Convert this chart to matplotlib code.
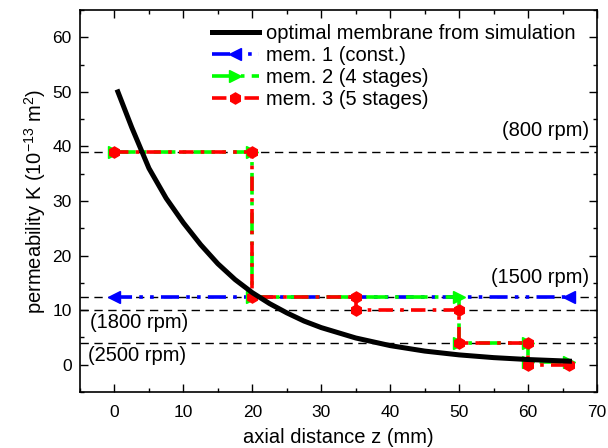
import numpy as np
import matplotlib
matplotlib.use("Agg")
import matplotlib.pyplot as plt
from matplotlib.ticker import MultipleLocator

plt.rcParams['font.family'] = ['Liberation Sans', 'DejaVu Sans']
plt.rcParams['mathtext.default'] = 'regular'

# optimal permeability profile from simulation
z_opt = [0.5, 2.5, 5, 7.5, 10, 12.5, 15, 17.5, 20, 22.5, 25, 27.5, 30,
         35, 40, 45, 50, 55, 60, 66]
K_opt = [50, 43.5, 36, 30.5, 26, 22, 18.5, 15.6, 13.2, 11.2, 9.5, 8.0, 6.8,
         4.9, 3.5, 2.5, 1.8, 1.3, 0.95, 0.65]

# membrane 1: constant permeability
z_m1 = [0, 66]
K_m1 = [12.5, 12.5]

# membrane 2: four stages
z_m2 = [0, 20, 20, 50, 50, 60, 60, 66]
K_m2 = [39, 39, 12.5, 12.5, 4, 4, 0.5, 0.5]

# membrane 3: five stages
z_m3 = [0, 20, 20, 35, 35, 50, 50, 60, 60, 66]
K_m3 = [39, 39, 12.5, 12.5, 10, 10, 4, 4, 0, 0]

# permeability levels for each rotation speed
rpm_levels = [39, 12.5, 10, 4]
rpm_labels = ['(800 rpm)', '(1500 rpm)', '(1800 rpm)', '(2500 rpm)']

fig = plt.figure(figsize=(6.08, 4.48), dpi=100)
ax = fig.add_axes([80/608, 56/448, 517/608, 382/448])

for lvl in rpm_levels:
    ax.axhline(lvl, color='black', lw=1.0, ls=(0, (6, 4)), zorder=1)

ax.plot(z_m1, K_m1, color='#0000ff', lw=2.6, ls=(0, (5, 2, 1, 2, 1, 2)),
        marker='<', ms=8, label='mem. 1 (const.)', zorder=3)
ax.plot(z_m2, K_m2, color='#00ff00', lw=2.6, ls=(0, (6, 2, 1, 2)),
        marker='>', ms=8, label='mem. 2 (4 stages)', zorder=4)
ax.plot(z_m3, K_m3, color='#ff0000', lw=2.6, ls=(0, (4, 2, 1, 2)),
        marker='h', ms=8, label='mem. 3 (5 stages)', zorder=5)
ax.plot(z_opt, K_opt, color='black', lw=3.6,
        label='optimal membrane from simulation', zorder=6)

ax.text(68.8, 43, rpm_labels[0], ha='right', va='center', fontsize=14.5)
ax.text(68.8, 16, rpm_labels[1], ha='right', va='center', fontsize=14.5)
ax.text(-3.6, 7.7, rpm_labels[2], ha='left', va='center', fontsize=14.5)
ax.text(-3.8, 1.6, rpm_labels[3], ha='left', va='center', fontsize=14.5)

ax.set_xlim(-5, 70)
ax.set_ylim(-5, 65)
ax.xaxis.set_major_locator(MultipleLocator(10))
ax.xaxis.set_minor_locator(MultipleLocator(5))
ax.yaxis.set_major_locator(MultipleLocator(10))
ax.yaxis.set_minor_locator(MultipleLocator(5))
ax.tick_params(which='both', direction='in', top=True, right=True, width=1.0)
ax.tick_params(which='major', length=6, labelsize=12.5)
ax.tick_params(which='minor', length=3)
ax.tick_params(axis='x', which='major', pad=9)
ax.tick_params(axis='y', which='major', pad=6)
for sp in ax.spines.values():
    sp.set_linewidth(1.2)

ax.set_xlabel('axial distance z (mm)', fontsize=14.5, labelpad=6)
ax.set_ylabel('permeability K (10$^{-13}$ m$^{2}$)', fontsize=14.5, labelpad=3)

handles, labels = ax.get_legend_handles_labels()
order = [3, 0, 1, 2]
ax.legend([handles[i] for i in order], [labels[i] for i in order],
          loc='upper right', bbox_to_anchor=(0.985, 1.0), frameon=False,
          fontsize=14.5, handlelength=2.3, handletextpad=0.35,
          labelspacing=0.15, borderaxespad=0.3, markerscale=1.0)

fig.savefig('out.png', dpi=100)
